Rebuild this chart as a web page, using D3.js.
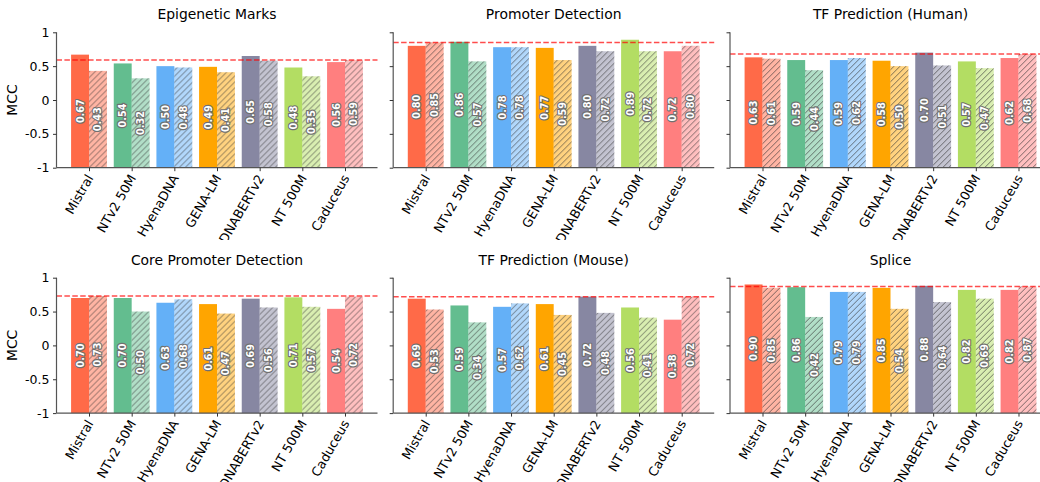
<!DOCTYPE html>
<html>
<head>
<meta charset="utf-8">
<script src="https://cdn.jsdelivr.net/npm/d3@7"></script>
<style>
  body { margin: 0; background: #fff; }
  svg { font-family: "DejaVu Sans", sans-serif; display: block; }
</style>
</head>
<body>
<div id="chart"></div>
<script>
// Model comparison, MCC per task (solid = first run, hatched = second run)
const models = ['Mistral', 'NTv2 50M', 'HyenaDNA', 'GENA-LM', 'DNABERTv2', 'NT 500M', 'Caduceus'];
const tasks = ['Epigenetic Marks', 'Promoter Detection', 'TF Prediction (Human)',
               'Core Promoter Detection', 'TF Prediction (Mouse)', 'Splice'];

const solidValues = [
    [0.67, 0.54, 0.50, 0.49, 0.65, 0.48, 0.56],
    [0.80, 0.86, 0.78, 0.77, 0.80, 0.89, 0.72],
    [0.63, 0.59, 0.59, 0.58, 0.70, 0.57, 0.62],
    [0.70, 0.70, 0.63, 0.61, 0.69, 0.71, 0.54],
    [0.69, 0.59, 0.57, 0.61, 0.72, 0.56, 0.38],
    [0.90, 0.86, 0.79, 0.85, 0.88, 0.82, 0.82]
];
const hatchedValues = [
    [0.43, 0.32, 0.48, 0.41, 0.58, 0.35, 0.59],
    [0.85, 0.57, 0.78, 0.59, 0.72, 0.72, 0.80],
    [0.61, 0.44, 0.62, 0.50, 0.51, 0.47, 0.68],
    [0.73, 0.50, 0.68, 0.47, 0.56, 0.57, 0.72],
    [0.53, 0.34, 0.62, 0.45, 0.48, 0.41, 0.72],
    [0.85, 0.42, 0.79, 0.54, 0.64, 0.69, 0.87]
];
const yTicks = [1, 0.5, 0, -0.5, -1];
const yTickLabels = ['1', '0.5', '0', '-0.5', '-1'];

const colors = ['#FF6A48', '#63BD8F', '#64B0F7', '#FFA500', '#8787A2', '#B3DD63', '#FF7F7F'];

// Layout
const width = 1040, height = 482;
const colLeft = [56.5, 393.2, 730];
const rowTop = [32.3, 277.7];
const rowClip = [[0, 240], [240, 482]];
const panelW = 321, panelH = 135.4;
const barW = 0.42;

const svg = d3.select('#chart').append('svg')
    .attr('width', width)
    .attr('height', height);

const defs = svg.append('defs');
defs.append('pattern')
    .attr('id', 'hatch')
    .attr('patternUnits', 'userSpaceOnUse')
    .attr('width', 6)
    .attr('height', 6)
    .append('path')
    .attr('d', 'M0,6 L6,0 M-1,1 L1,-1 M5,7 L7,5')
    .attr('stroke', '#333')
    .attr('stroke-opacity', 0.8)
    .attr('stroke-width', 0.8);

rowClip.forEach((c, i) => {
    defs.append('clipPath').attr('id', 'row' + i)
        .append('rect').attr('x', 0).attr('y', c[0]).attr('width', width).attr('height', c[1] - c[0]);
});

// x: index-based scale with matplotlib-like 5% margins
const xMin = -barW, xMax = models.length - 1 + barW;
const pad = (xMax - xMin) * 0.05;
const x = d3.scaleLinear().domain([xMin - pad, xMax + pad]).range([0, panelW]);
const y = d3.scaleLinear().domain([-1, 1]).range([panelH, 0]);
const bw = x(barW) - x(0);

const rows = [svg.append('g').attr('clip-path', 'url(#row0)'),
              svg.append('g').attr('clip-path', 'url(#row1)')];

tasks.forEach((task, t) => {
    const row = Math.floor(t / 3), col = t % 3;
    const g = rows[row].append('g')
        .attr('transform', `translate(${colLeft[col]},${rowTop[row]})`);

    const solid = solidValues[t];
    const hatched = hatchedValues[t];

    // solid bars
    g.selectAll('.solid')
        .data(solid)
        .join('rect')
        .attr('x', (d, i) => x(i) - bw)
        .attr('width', bw)
        .attr('y', d => y(d))
        .attr('height', d => y(-1) - y(d))
        .attr('fill', (d, i) => colors[i]);

    // hatched bars
    g.selectAll('.hfill')
        .data(hatched)
        .join('rect')
        .attr('x', (d, i) => x(i))
        .attr('width', bw)
        .attr('y', d => y(d))
        .attr('height', d => y(-1) - y(d))
        .attr('fill', (d, i) => colors[i])
        .attr('fill-opacity', 0.5);

    g.selectAll('.hlines')
        .data(hatched)
        .join('rect')
        .attr('x', (d, i) => x(i))
        .attr('width', bw)
        .attr('y', d => y(d))
        .attr('height', d => y(-1) - y(d))
        .attr('fill', 'url(#hatch)');

    // value labels, centred on each bar
    const labelData = solid.map((v, i) => ({ v, cx: x(i) - bw / 2 }))
        .concat(hatched.map((v, i) => ({ v, cx: x(i) + bw / 2 })));

    g.selectAll('.val')
        .data(labelData)
        .join('text')
        .attr('transform', d => `translate(${d.cx},${y((d.v - 1) / 2)}) rotate(-90)`)
        .attr('text-anchor', 'middle')
        .attr('dy', '0.36em')
        .style('font-size', '9.7px')
        .style('font-weight', 'bold')
        .style('fill', '#fff')
        .style('stroke', '#707070')
        .style('stroke-width', 2.2)
        .style('paint-order', 'stroke')
        .style('stroke-linejoin', 'round')
        .text(d => d.v.toFixed(2));

    // reference line at best hatched score
    const best = d3.max(hatched);
    g.append('line')
        .attr('x1', 0).attr('x2', panelW)
        .attr('y1', y(best)).attr('y2', y(best))
        .attr('stroke', '#ff0000')
        .attr('stroke-opacity', 0.7)
        .attr('stroke-width', 1.5)
        .attr('stroke-dasharray', '5.5,2.4');

    // y axis
    const yAxis = g.append('g')
        .call(d3.axisLeft(y).tickValues(yTicks).tickSize(3.5).tickPadding(3.5)
            .tickFormat((d, i) => col === 0 ? yTickLabels[i] : ''));
    yAxis.select('.domain').attr('stroke', '#555').attr('stroke-width', 1.2).attr('d', `M0,0V${panelH}`);
    yAxis.selectAll('.tick line').attr('stroke', '#333');
    yAxis.selectAll('.tick text').style('font-size', '12.5px').style('fill', '#000')
        .attr('font-family', '"DejaVu Sans", sans-serif');

    // x axis
    const xAxis = g.append('g')
        .attr('transform', `translate(0,${panelH})`)
        .call(d3.axisBottom(x).tickValues(d3.range(models.length)).tickSize(3.5).tickFormat(''));
    xAxis.select('.domain').attr('stroke', '#555').attr('stroke-width', 1.2).attr('d', `M0,0H${panelW}`);
    xAxis.selectAll('.tick line').attr('stroke', '#333');

    g.selectAll('.xlab')
        .data(models)
        .join('text')
        .attr('transform', (d, i) => `translate(${x(i) + 1},${panelH + 8}) rotate(-60)`)
        .attr('text-anchor', 'end')
        .attr('dy', '0.35em')
        .style('font-size', '12.8px')
        .text(d => d);

    // title
    g.append('text')
        .attr('x', panelW / 2)
        .attr('y', -13)
        .attr('text-anchor', 'middle')
        .style('font-size', '13.9px')
        .text(task);

    if (col === 0) {
        g.append('text')
            .attr('transform', `translate(-40,${panelH / 2}) rotate(-90)`)
            .attr('text-anchor', 'middle')
            .style('font-size', '13.9px')
            .text('MCC');
    }
});
</script>
</body>
</html>
